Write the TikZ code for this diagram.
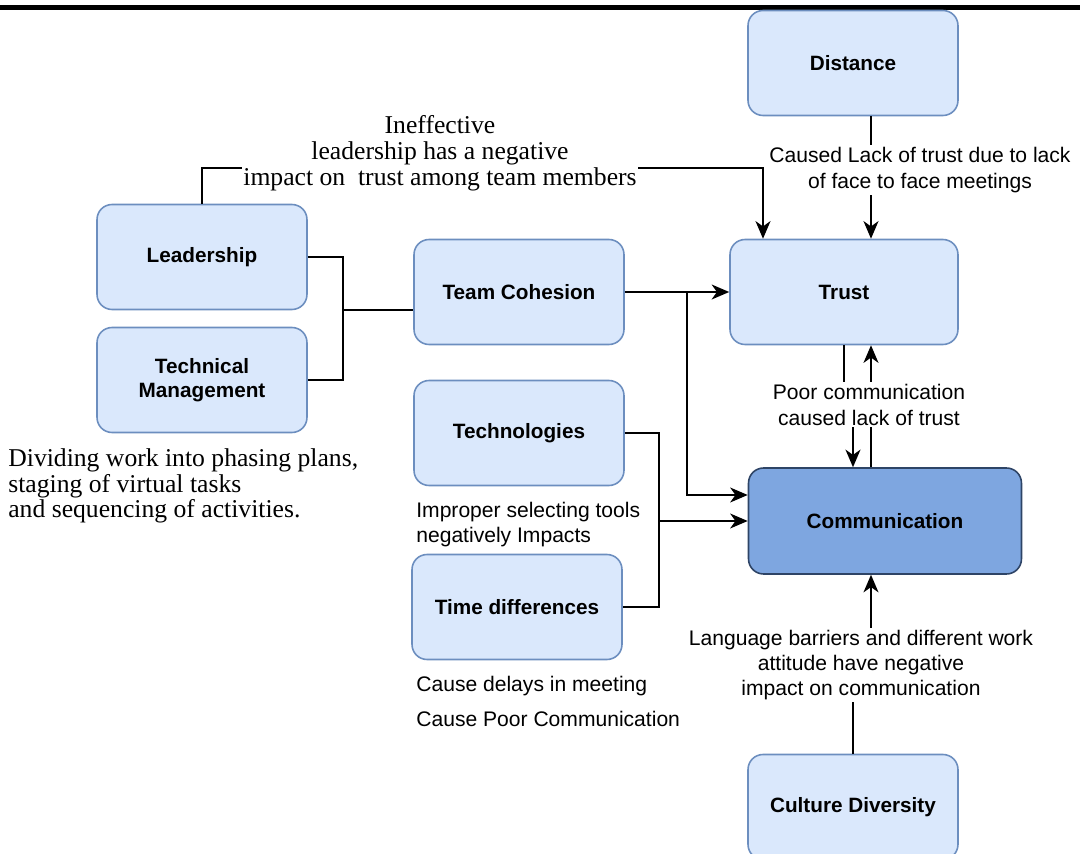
\documentclass[tikz,border=0pt]{standalone}
\usepackage{fontspec}
\setmainfont{Liberation Serif}
\setsansfont{Liberation Sans}
\usepackage{tikz}
\usetikzlibrary{arrows.meta,positioning}
\definecolor{boxfill}{HTML}{DAE8FC}
\definecolor{boxline}{HTML}{6C8EBF}
\definecolor{keyfill}{HTML}{7EA6E0}
\definecolor{keyline}{HTML}{2E4466}

\begin{document}
\begin{tikzpicture}[x=0.02cm,y=-0.02cm,
  factor/.style={draw=boxline,fill=boxfill,line width=0.9pt,rounded corners=0.3cm,
    minimum width=4.2cm,minimum height=2.1cm,align=center,
    font=\sffamily\bfseries\fontsize{11.8}{14}\selectfont},
  link/.style={line width=1.1pt},
  arr/.style={link,-{Stealth[length=10pt,width=8.5pt,inset=3pt]}},
  note/.style={fill=white,inner sep=1pt,align=center,font=\sffamily\fontsize{12}{14.8}\selectfont},
  plain/.style={inner sep=0pt,anchor=west,align=left,font=\sffamily\fontsize{12}{14.2}\selectfont}]
  \useasboundingbox (0,0) rectangle (1080,854);
  \draw[line width=2.3pt] (0,7.5) -- (1080,7.5);

  % factors
  \node[factor] (dist) at (853,63) {Distance};
  \node[factor,minimum width=4.56cm] (trust) at (844,292) {Trust};
  \node[factor,fill=keyfill,draw=keyline,minimum width=5.46cm,minimum height=2.12cm] (comm) at (885,521) {Communication};
  \node[factor] (lead) at (202,257) {Leadership};
  \node[factor] (tech) at (202,380) {Technical\\Management};
  \node[factor] (coh) at (519,292) {Team Cohesion};
  \node[factor] (techno) at (519,433) {Technologies};
  \node[factor] (time) at (517,607) {Time differences};
  \node[factor] (cult) at (853,807) {Culture Diversity};

  % lanes and bends
  \coordinate (upl) at (871,0);
  \coordinate (dnl) at (853,0);
  \coordinate (il) at (763,168);
  \coordinate (jn) at (343,310);
  \coordinate (cl) at (687,495);
  \coordinate (tl) at (659,521);

  % connectors
  \draw[arr] (dist.south -| upl) -- (trust.north -| upl);
  \draw[arr] (lead.north) |- (il) -- (trust.north -| il);
  \draw[link] (lead.east) -| (jn);
  \draw[link] (tech.east) -| (jn);
  \draw[link] (jn) -- (coh.west |- jn);
  \draw[arr] (coh.east) -- (trust.west);
  \draw[arr] (coh.east) -| (cl) -- (comm.west |- cl);
  \draw[arr] (techno.east) -| (tl) -- (comm.west);
  \draw[link] (time.east) -| (tl);
  \draw[arr] (trust.south) -- (844,405) -| (comm.north -| dnl);
  \draw[arr] (comm.north -| upl) -- (trust.south -| upl);
  \draw[arr] (cult.north) -- (853,665) -| (comm.south -| upl);

  % edge labels
  \node[note,font=\rmfamily\fontsize{14.6}{14.7}\selectfont] (ineff) at (440,153)
    {Ineffective\\leadership has a negative\\impact on\ \ trust among team members};
  \node[note] (face) at (920,170) {Caused Lack of trust due to lack\\of face to face meetings};
  \node[note] (pc) at (869,405) {Poor communication\\caused lack of trust};
  \node[note,font=\sffamily\fontsize{12}{14.2}\selectfont] (lang) at (861,665)
    {Language barriers and different work\\attitude have negative\\impact on communication};

  % free notes
  \node[plain] (impr) at (416,525) {Improper selecting tools\\negatively Impacts};
  \node[plain] (delay) at (416,686) {Cause delays in meeting};
  \node[plain] (poor) at (416,719) {Cause Poor Communication};
  \node[plain,font=\rmfamily\fontsize{14.6}{13}\selectfont] (phase) at (8,486)
    {Dividing work into phasing plans,\\staging of virtual tasks\\and sequencing of activities.};
\end{tikzpicture}
\end{document}
